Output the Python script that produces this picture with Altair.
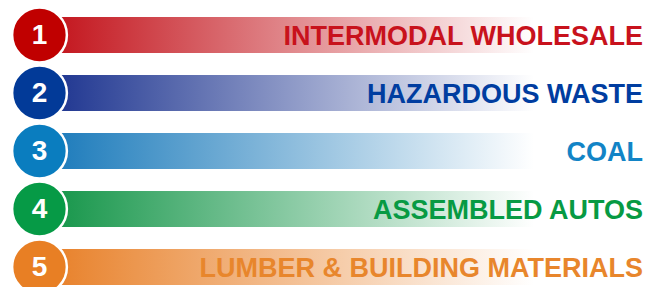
import altair as alt
import pandas as pd

# ---- data ----
ranks = [1, 2, 3, 4, 5]
labels = [
    "INTERMODAL WHOLESALE",
    "HAZARDOUS WASTE",
    "COAL",
    "ASSEMBLED AUTOS",
    "LUMBER & BUILDING MATERIALS",
]
circle_colors = ["#C00000", "#023A98", "#0A7DBF", "#069A46", "#E87F24"]
bar_colors = ["#C3141C", "#1E3590", "#1C7BBB", "#16964A", "#E8812A"]
text_colors = ["#C8121C", "#003DA0", "#1284C6", "#079A43", "#E8862C"]

df = pd.DataFrame({"rank": ranks, "label": labels})

W, H = 641, 279
ROW = 58.0
TOP = 27.0  # distance from plot top to the centre of row 1
Y0 = 1 - TOP / ROW
Y1 = Y0 + H / ROW

xs = alt.Scale(domain=[0, W], range=[0, W], nice=False, zero=False)
ys = alt.Scale(domain=[Y0, Y1], range=[0, H], nice=False, zero=False)

BAR_X0, BAR_X1 = 44, 526
CIRCLE_X = 31.5
TEXT_X = 635
BAR_HALF = 0.31

base = alt.Chart(df)

layers = []
for i, r in enumerate(ranks):
    grad = alt.LinearGradient(
        gradient="linear",
        stops=[
            alt.GradientStop(offset=0, color=bar_colors[i]),
            alt.GradientStop(offset=1, color="#FFFFFF"),
        ],
        x1=0, x2=1, y1=0, y2=0,
    )
    layers.append(
        base.transform_filter(alt.datum.rank == r)
        .transform_calculate(
            ya="datum.rank - %f" % BAR_HALF,
            yb="datum.rank + %f" % BAR_HALF,
            x0=str(BAR_X0),
            x1=str(BAR_X1),
        )
        .mark_rect(color=grad)
        .encode(
            x=alt.X("x0:Q", scale=xs, axis=None),
            x2="x1:Q",
            y=alt.Y("ya:Q", scale=ys, axis=None),
            y2="yb:Q",
        )
    )

circles = base.mark_circle(size=3000, opacity=1, stroke="white", strokeWidth=2.5).encode(
    x=alt.datum(CIRCLE_X, scale=xs),
    y=alt.Y("rank:Q", scale=ys, axis=None),
    color=alt.Color("label:N", scale=alt.Scale(domain=labels, range=circle_colors), legend=None),
)

nums = base.mark_text(
    font="Liberation Sans", fontWeight="bold", fontSize=28, color="white",
    align="center", baseline="middle", dy=1,
).encode(
    x=alt.datum(CIRCLE_X, scale=xs),
    y=alt.Y("rank:Q", scale=ys, axis=None),
    text=alt.Text("rank:Q"),
)

texts = base.mark_text(
    font="Liberation Sans", fontWeight="bold", fontSize=27,
    align="right", baseline="middle", dy=2,
).encode(
    x=alt.datum(TEXT_X, scale=xs),
    y=alt.Y("rank:Q", scale=ys, axis=None),
    text="label:N",
    color=alt.Color("label:N", scale=alt.Scale(domain=labels, range=text_colors), legend=None),
)

chart = (
    alt.layer(*layers, circles, nums, texts)
    .resolve_scale(color="independent")
    .properties(
        width=W, height=H, padding=0, background="white",
        autosize=alt.AutoSizeParams(type="none"),
    )
    .configure_view(stroke=None)
)

chart.save("out.html", embed_options={"renderer": "svg", "actions": False})
